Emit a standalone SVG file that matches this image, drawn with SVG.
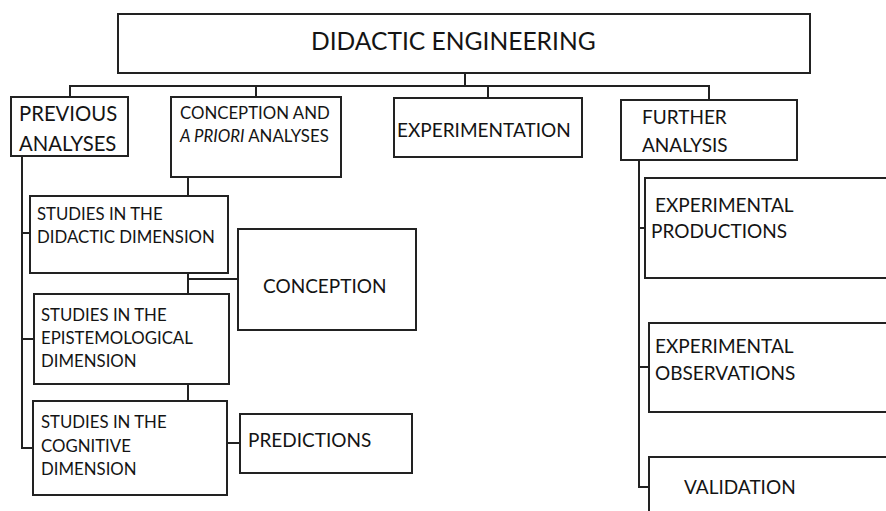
<svg xmlns="http://www.w3.org/2000/svg" width="886" height="511" viewBox="0 0 886 511">
<style>
.box{fill:#fff;stroke:#222;stroke-width:2}
.ln{fill:none;stroke:#222;stroke-width:2}
text{font-family:Lato,"Open Sans","Liberation Sans",sans-serif;fill:#141414}
.t1{font-size:24.6px}
.t2{font-size:20.3px}
.t3{font-size:19px}
.t4{font-size:16.8px}
</style>
<rect width="886" height="511" fill="#fff"/>
<g id="connectors">
<path class="ln" d="M465 73V86H488V98"/>
<path class="ln" d="M70 97V86H709V100"/>
<path class="ln" d="M256 86V97"/>
<path class="ln" d="M22 156V448H33"/>
<path class="ln" d="M22 233H30M22 339H34"/>
<path class="ln" d="M188 177V196M188 273V294M188 279H238M188 384V401"/>
<path class="ln" d="M227 443H240"/>
<path class="ln" d="M639 160V487H649"/>
<path class="ln" d="M639 228H645M639 367H649"/>
</g>
<g id="didactic-engineering"><rect class="box" x="118" y="14" width="692" height="59"/><text class="t1" x="311" y="50">DIDACTIC ENGINEERING</text></g>
<g id="previous-analyses"><rect class="box" x="11" y="97" width="117" height="59"/><text class="t2" x="19" y="121">PREVIOUS</text><text class="t2" x="19" y="151">ANALYSES</text></g>
<g id="conception-apriori"><rect class="box" x="171" y="97" width="170" height="80"/><text class="t4" x="180" y="119">CONCEPTION AND</text><text class="t4" x="180" y="142"><tspan font-style="italic">A PRIORI</tspan> ANALYSES</text></g>
<g id="experimentation"><rect class="box" x="394" y="98" width="188" height="59"/><text class="t3" x="397" y="137">EXPERIMENTATION</text></g>
<g id="further-analysis"><rect class="box" x="621" y="100" width="176" height="60"/><text class="t3" x="642" y="124">FURTHER</text><text class="t3" x="642" y="152">ANALYSIS</text></g>
<g id="studies-didactic"><rect class="box" x="30" y="196" width="198" height="77"/><text class="t4" x="37" y="220">STUDIES IN THE</text><text class="t4" x="37" y="243">DIDACTIC DIMENSION</text></g>
<g id="conception"><rect class="box" x="238" y="229" width="178" height="101"/><text class="t3" x="263" y="293">CONCEPTION</text></g>
<g id="studies-epistemological"><rect class="box" x="34" y="294" width="195" height="90"/><text class="t4" x="41" y="321">STUDIES IN THE</text><text class="t4" x="41" y="344">EPISTEMOLOGICAL</text><text class="t4" x="41" y="367">DIMENSION</text></g>
<g id="studies-cognitive"><rect class="box" x="33" y="401" width="194" height="94"/><text class="t4" x="41" y="428">STUDIES IN THE</text><text class="t4" x="41" y="452">COGNITIVE</text><text class="t4" x="41" y="475">DIMENSION</text></g>
<g id="predictions"><rect class="box" x="240" y="414" width="172" height="59"/><text class="t3" x="248" y="447">PREDICTIONS</text></g>
<g id="experimental-productions"><rect class="box" x="645" y="178" width="260" height="100"/><text class="t3" x="655" y="212">EXPERIMENTAL</text><text class="t3" x="651" y="238">PRODUCTIONS</text></g>
<g id="experimental-observations"><rect class="box" x="649" y="323" width="260" height="89"/><text class="t3" x="655" y="353">EXPERIMENTAL</text><text class="t3" x="655" y="380">OBSERVATIONS</text></g>
<g id="validation"><rect class="box" x="649" y="457" width="260" height="80"/><text class="t3" x="684" y="494">VALIDATION</text></g>
</svg>
